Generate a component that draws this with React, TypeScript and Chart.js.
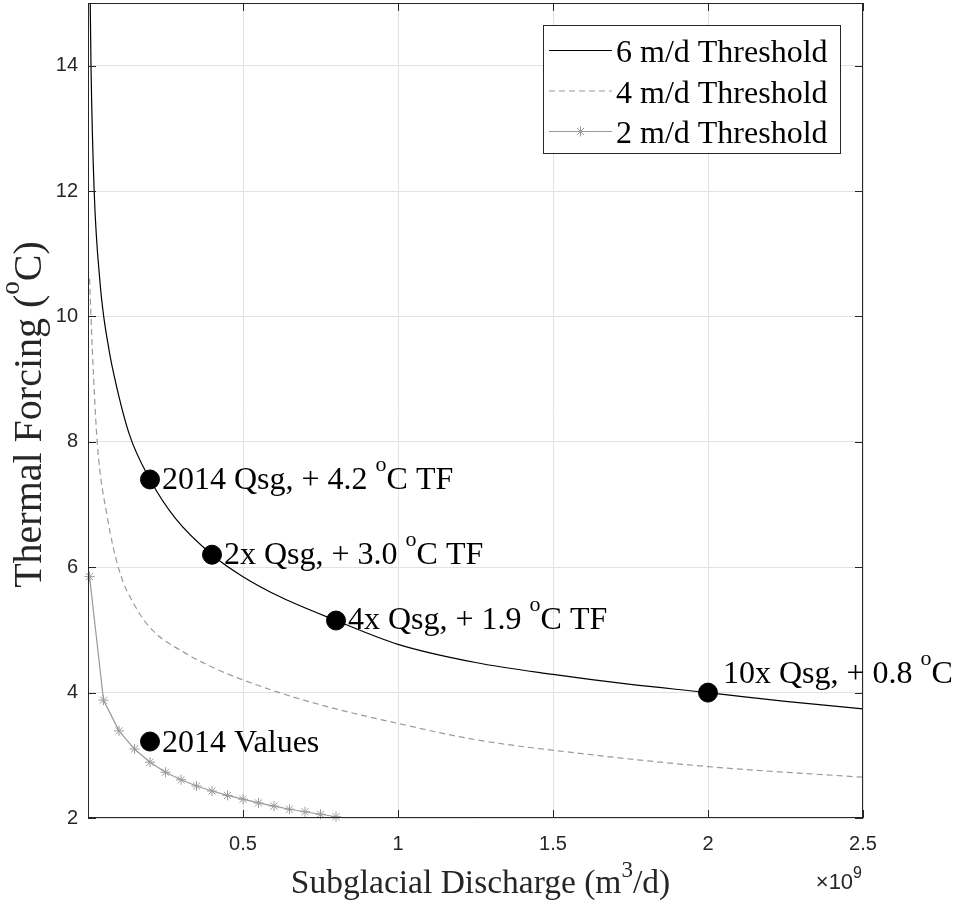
import React, { useEffect, useRef } from 'react';
import { Chart, registerables } from 'chart.js';

Chart.register(...registerables);

// Subglacial discharge in units of 1e9 m^3/d, thermal forcing in degC
const qsg6 = [0.005, 0.0097, 0.02, 0.039, 0.051, 0.066, 0.078, 0.132, 0.2, 0.282, 0.4, 0.5, 0.623, 0.8, 1.0, 1.25, 1.5, 1.75, 2.0, 2.25, 2.5];
const tf6 = [15.9, 13.98, 11.99, 10.53, 9.99, 9.52, 9.2, 8.14, 7.4, 6.78, 6.2, 5.85, 5.52, 5.15, 4.77, 4.48, 4.29, 4.13, 4.0, 3.86, 3.74];

const qsg4 = [0.005, 0.014, 0.03, 0.062, 0.1, 0.153, 0.207, 0.314, 0.421, 0.529, 0.636, 0.8, 0.945, 1.25, 1.588, 2.0, 2.5];
const tf4 = [10.6, 9.46, 7.98, 6.81, 5.96, 5.37, 5.0, 4.63, 4.36, 4.15, 3.97, 3.74, 3.57, 3.25, 3.03, 2.82, 2.65];

const qsg2 = [0.005, 0.05, 0.1, 0.15, 0.2, 0.25, 0.3, 0.35, 0.4, 0.45, 0.5, 0.55, 0.6, 0.65, 0.7, 0.75, 0.8];
const tf2 = [5.85, 3.88, 3.39, 3.1, 2.89, 2.73, 2.61, 2.51, 2.43, 2.36, 2.3, 2.24, 2.19, 2.14, 2.1, 2.06, 2.02];

const scenarioQ = [0.2, 0.4, 0.8, 2.0, 0.2];
const scenarioTF = [7.4, 6.2, 5.15, 4.0, 3.22];
// odd indices are superscripts
const scenarioLabels = [
  ['2014 Qsg, + 4.2 ', 'o', 'C TF'],
  ['2x Qsg, + 3.0 ', 'o', 'C TF'],
  ['4x Qsg, + 1.9 ', 'o', 'C TF'],
  ['10x Qsg, + 0.8 ', 'o', 'C'],
  ['2014 Values'],
];

const seriesNames = ['6 m/d Threshold', '4 m/d Threshold', '2 m/d Threshold'];
const xTitle = ['Subglacial Discharge (m', '3', '/d)'];
const yTitle = ['Thermal Forcing (', 'o', 'C)'];
const xExponent = ['\u00d710', '9'];

const xTickValues = [0, 0.5, 1, 1.5, 2, 2.5];
const yTickValues = [2, 4, 6, 8, 10, 12, 14];

const SERIF = '"Liberation Serif", "Times New Roman", serif';
const SANS = '"Liberation Sans", Arial, sans-serif';
const AXIS = '#262626';
const GRAY = '#9a9a9a';

function drawRich(ctx: CanvasRenderingContext2D, parts: string[], x: number, y: number, align: string, size: number, supSize: number, rise: number, family: string) {
  const widths = parts.map((t, i) => {
    ctx.font = `${i % 2 ? supSize : size}px ${family}`;
    return ctx.measureText(t).width;
  });
  const total = widths.reduce((a, b) => a + b, 0);
  let cx = align === 'center' ? x - total / 2 : align === 'right' ? x - total : x;
  ctx.textAlign = 'left';
  ctx.textBaseline = 'alphabetic';
  parts.forEach((t, i) => {
    ctx.font = `${i % 2 ? supSize : size}px ${family}`;
    ctx.fillText(t, cx, i % 2 ? y - rise : y);
    cx += widths[i];
  });
}

const labelOffsets = [
  [12, 10],
  [12, 9],
  [12, 8],
  [15, -10],
  [12, 10],
];

const decorPlugin = {
  id: 'decor',
  afterDatasetsDraw(chart: any) {
    const ctx: CanvasRenderingContext2D = chart.ctx;
    const { left, right, top, bottom } = chart.chartArea;
    const xs = chart.scales.x;
    const ys = chart.scales.y;
    ctx.save();
    ctx.strokeStyle = AXIS;
    ctx.lineWidth = 1;
    ctx.strokeRect(left + 0.5, top + 0.5, right - left - 1, bottom - top - 1);
    const tl = 8;
    ctx.beginPath();
    xTickValues.forEach((v) => {
      const px = Math.round(xs.getPixelForValue(v)) + 0.5;
      ctx.moveTo(px, bottom);
      ctx.lineTo(px, bottom - tl);
      ctx.moveTo(px, top);
      ctx.lineTo(px, top + tl);
    });
    yTickValues.forEach((v) => {
      const py = Math.round(ys.getPixelForValue(v)) + 0.5;
      ctx.moveTo(left, py);
      ctx.lineTo(left + tl, py);
      ctx.moveTo(right, py);
      ctx.lineTo(right - tl, py);
    });
    ctx.stroke();
    ctx.fillStyle = '#000';
    scenarioLabels.forEach((parts, i) => {
      const px = xs.getPixelForValue(scenarioQ[i]);
      const py = ys.getPixelForValue(scenarioTF[i]);
      drawRich(ctx, parts, px + labelOffsets[i][0], py + labelOffsets[i][1], 'left', 32, 22, 18, SERIF);
    });
    ctx.restore();
  },
  afterDraw(chart: any) {
    const ctx: CanvasRenderingContext2D = chart.ctx;
    const { left, right, top, bottom } = chart.chartArea;
    ctx.save();
    ctx.fillStyle = AXIS;
    drawRich(ctx, xTitle, (left + right) / 2 + 5, 893, 'center', 33.5, 23, 16, SERIF);
    ctx.save();
    ctx.translate(41, (top + bottom) / 2 + 4);
    ctx.rotate(-Math.PI / 2);
    drawRich(ctx, yTitle, 0, 0, 'center', 40, 27, 22, SERIF);
    ctx.restore();
    drawRich(ctx, xExponent, 862, 889, 'right', 22, 16, 11, SANS);

    // legend
    const bx = 543, by = 25, bw = 298, bh = 129;
    ctx.fillStyle = '#fff';
    ctx.fillRect(bx, by, bw, bh);
    ctx.strokeStyle = AXIS;
    ctx.lineWidth = 1;
    ctx.strokeRect(bx + 0.5, by + 0.5, bw - 1, bh - 1);
    const rows = [50.5, 91, 131.5];
    const styles = [
      { color: '#000', dash: [] as number[], star: false },
      { color: GRAY, dash: [6, 4], star: false },
      { color: GRAY, dash: [] as number[], star: true },
    ];
    seriesNames.forEach((name, i) => {
      const y = rows[i];
      const st = styles[i];
      ctx.strokeStyle = st.color;
      ctx.lineWidth = 1.2;
      ctx.setLineDash(st.dash);
      ctx.beginPath();
      ctx.moveTo(549, y);
      ctx.lineTo(612, y);
      ctx.stroke();
      ctx.setLineDash([]);
      if (st.star) {
        const r = 5;
        ctx.lineWidth = 1;
        ctx.beginPath();
        for (let k = 0; k < 4; k++) {
          const a = (k * Math.PI) / 4;
          ctx.moveTo(580.5 - r * Math.cos(a), y - r * Math.sin(a));
          ctx.lineTo(580.5 + r * Math.cos(a), y + r * Math.sin(a));
        }
        ctx.stroke();
      }
      ctx.fillStyle = '#000';
      ctx.font = `32px ${SERIF}`;
      ctx.textAlign = 'left';
      ctx.textBaseline = 'alphabetic';
      ctx.fillText(name, 616, y + 11.5);
    });
    ctx.restore();
  },
};

const toPts = (xs: number[], ys: number[]) => xs.map((x, i) => ({ x, y: ys[i] }));

export default function App() {
  const ref = useRef<HTMLCanvasElement | null>(null);
  useEffect(() => {
    if (!ref.current) return;
    const tickFont = { family: SANS, size: 20 };
    const chart = new Chart(ref.current, {
      type: 'scatter',
      data: {
        datasets: [
          {
            label: 'scenarios',
            data: toPts(scenarioQ, scenarioTF),
            showLine: false,
            pointRadius: 9.5,
            pointBackgroundColor: '#000',
            pointBorderColor: '#000',
            pointBorderWidth: 1,
            order: 0,
          },
          {
            label: seriesNames[0],
            data: toPts(qsg6, tf6),
            showLine: true,
            borderColor: '#000',
            borderWidth: 1.2,
            pointRadius: 0,
            cubicInterpolationMode: 'monotone',
            order: 3,
          },
          {
            label: seriesNames[1],
            data: toPts(qsg4, tf4),
            showLine: true,
            borderColor: GRAY,
            borderWidth: 1.2,
            borderDash: [6, 4],
            pointRadius: 0,
            cubicInterpolationMode: 'monotone',
            order: 2,
          },
          {
            label: seriesNames[2],
            data: toPts(qsg2, tf2),
            showLine: true,
            borderColor: GRAY,
            borderWidth: 1.2,
            pointStyle: 'star',
            pointRadius: 5,
            pointBorderColor: GRAY,
            pointBackgroundColor: GRAY,
            pointBorderWidth: 1,
            tension: 0,
            clip: false,
            order: 1,
          },
        ] as any,
      },
      options: {
        responsive: false,
        devicePixelRatio: 1,
        animation: false,
        events: [],
        layout: { autoPadding: false, padding: { left: 0, top: 3, right: 96, bottom: 0 } },
        plugins: { legend: { display: false }, tooltip: { enabled: false } },
        scales: {
          x: {
            type: 'linear',
            min: 0,
            max: 2.5,
            afterBuildTicks: (s: any) => {
              s.ticks = xTickValues.map((v) => ({ value: v }));
            },
            ticks: {
              callback: (v: any) => (v === 0 ? '' : String(v)),
              font: tickFont,
              color: AXIS,
              padding: 14,
              maxRotation: 0,
              autoSkip: false,
            },
            grid: { color: '#e2e2e2', drawTicks: false },
            border: { display: false },
            afterFit: (s: any) => {
              s.height = 89;
              s.paddingLeft = 0;
              s.paddingRight = 0;
            },
          },
          y: {
            type: 'linear',
            min: 2,
            max: 15,
            afterBuildTicks: (s: any) => {
              s.ticks = yTickValues.map((v) => ({ value: v }));
            },
            ticks: {
              font: tickFont,
              color: AXIS,
              padding: 10,
              autoSkip: false,
            },
            grid: { color: '#e2e2e2', drawTicks: false },
            border: { display: false },
            afterFit: (s: any) => {
              s.width = 88;
              s.paddingTop = 0;
              s.paddingBottom = 0;
            },
          },
        },
      } as any,
      plugins: [decorPlugin],
    });
    return () => chart.destroy();
  }, []);
  return (
    <div style={{ position: 'absolute', left: 0, top: 0, width: 959, height: 907, background: '#fff' }}>
      <canvas ref={ref} width={959} height={907} style={{ display: 'block', width: 959, height: 907 }} />
    </div>
  );
}
